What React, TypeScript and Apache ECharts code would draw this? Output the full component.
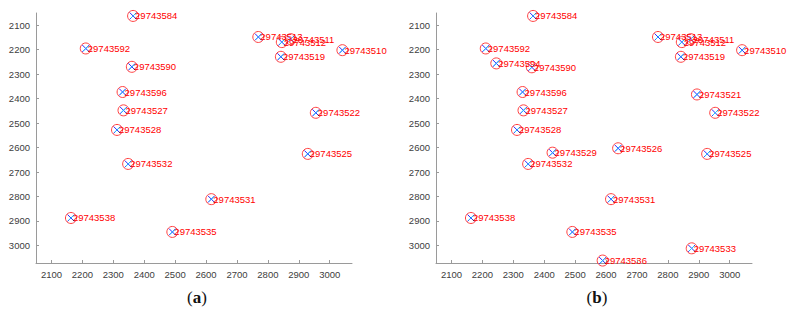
import React, { useEffect, useRef } from "react";
import * as echarts from "echarts";

// Panel (a)
const idsA = ["29743584", "29743592", "29743590", "29743596", "29743527", "29743528", "29743532", "29743538", "29743535", "29743531", "29743525", "29743513", "29743512", "29743511", "29743519", "29743510", "29743522"];
const xA = [2364, 2211, 2360, 2330, 2333, 2312, 2348, 2163, 2491, 2617, 2929, 2769, 2845, 2874, 2842, 3041, 2955];
const yA = [2062, 2195, 2270, 2373, 2448, 2528, 2667, 2888, 2945, 2811, 2626, 2148, 2169, 2157, 2229, 2202, 2458];

// Panel (b)
const idsB = ["29743584", "29743592", "29743594", "29743590", "29743596", "29743527", "29743528", "29743529", "29743532", "29743538", "29743535", "29743526", "29743531", "29743525", "29743533", "29743536", "29743513", "29743512", "29743511", "29743519", "29743510", "29743521", "29743522"];
const xB = [2364, 2211, 2245, 2360, 2330, 2333, 2312, 2427, 2348, 2163, 2491, 2639, 2616, 2927, 2877, 2589, 2768, 2845, 2874, 2842, 3040, 2894, 2953];
const yB = [2062, 2195, 2256, 2272, 2373, 2448, 2528, 2621, 2667, 2888, 2945, 2603, 2811, 2626, 3012, 3062, 2148, 2169, 2157, 2229, 2202, 2383, 2458];

const tickValues = [2100, 2200, 2300, 2400, 2500, 2600, 2700, 2800, 2900, 3000];
const axisMin = 2050;
const axisMax = 3072;
const captions = ["a", "b"];

const axisCommon = (inverse: boolean, gridIndex: number) => ({
  type: "value",
  gridIndex,
  min: axisMin,
  max: axisMax,
  inverse,
  splitLine: { show: false },
  axisLine: { show: true, onZero: false, lineStyle: { color: "#9a9a9a", width: 1 } },
  axisTick: { show: true, inside: true, length: 3, customValues: tickValues, lineStyle: { color: "#9a9a9a" } },
  axisLabel: {
    customValues: tickValues,
    formatter: (v: number) => String(v),
    color: "#404040",
    fontSize: 9.5,
    fontFamily: "Liberation Sans, Arial, sans-serif",
    margin: 6,
    showMinLabel: true,
    showMaxLabel: true,
  },
});

function makeSeries(ids: string[], xs: number[], ys: number[], idx: number) {
  const data = xs.map((x, i) => [x, ys[i], ids[i]]);
  return [
    {
      type: "scatter",
      xAxisIndex: idx,
      yAxisIndex: idx,
      data,
      symbol: "path://M0,0L1,1M1,0L0,1",
      symbolSize: 7,
      itemStyle: { color: "none", borderColor: "#2a2aff", borderWidth: 1, opacity: 1 },
      silent: true,
      z: 2,
    },
    {
      type: "scatter",
      xAxisIndex: idx,
      yAxisIndex: idx,
      data,
      symbol: "path://M0,1L1,0",
      symbolSize: 5,
      itemStyle: { color: "none", borderColor: "#22c8ff", borderWidth: 1, opacity: 1 },
      silent: true,
      z: 3,
    },
    {
      type: "scatter",
      xAxisIndex: idx,
      yAxisIndex: idx,
      data,
      symbol: "circle",
      symbolSize: 11,
      itemStyle: { color: "rgba(0,0,0,0)", borderColor: "#ff4040", borderWidth: 1, opacity: 1 },
      label: {
        show: true,
        position: "right",
        distance: -4,
        formatter: (p: any) => p.value[2],
        color: "#ff0000",
        fontSize: 9.5,
        fontFamily: "Liberation Sans, Arial, sans-serif",
      },
      silent: true,
      z: 4,
    },
  ];
}

export default function App() {
  const ref = useRef<HTMLDivElement>(null);
  useEffect(() => {
    if (!ref.current) return;
    const chart = echarts.init(ref.current, undefined, { renderer: "svg" });
    chart.setOption({
      animation: false,
      backgroundColor: "#ffffff",
      grid: [
        { left: 36, top: 13, width: 316, height: 250 },
        { left: 436, top: 13, width: 316, height: 250 },
      ],
      xAxis: [axisCommon(false, 0), axisCommon(false, 1)],
      yAxis: [axisCommon(true, 0), axisCommon(true, 1)],
      series: [...makeSeries(idsA, xA, yA, 0), ...makeSeries(idsB, xB, yB, 1)],
      graphic: captions.map((c, i) => ({
        type: "text",
        x: 197 + i * 400,
        y: 297,
        style: {
          text: "({b|" + c + "})",
          font: "17px 'Liberation Serif', serif",
          fill: "#111",
          align: "center",
          verticalAlign: "middle",
          rich: { b: { fontWeight: "bold", fontSize: 17, fontFamily: "Liberation Serif, serif", fill: "#111" } },
        },
      })),
    });
    return () => chart.dispose();
  }, []);
  return (
    <div
      ref={ref}
      style={{ position: "fixed", left: 0, top: 0, width: 794, height: 310, background: "#fff" }}
    />
  );
}
